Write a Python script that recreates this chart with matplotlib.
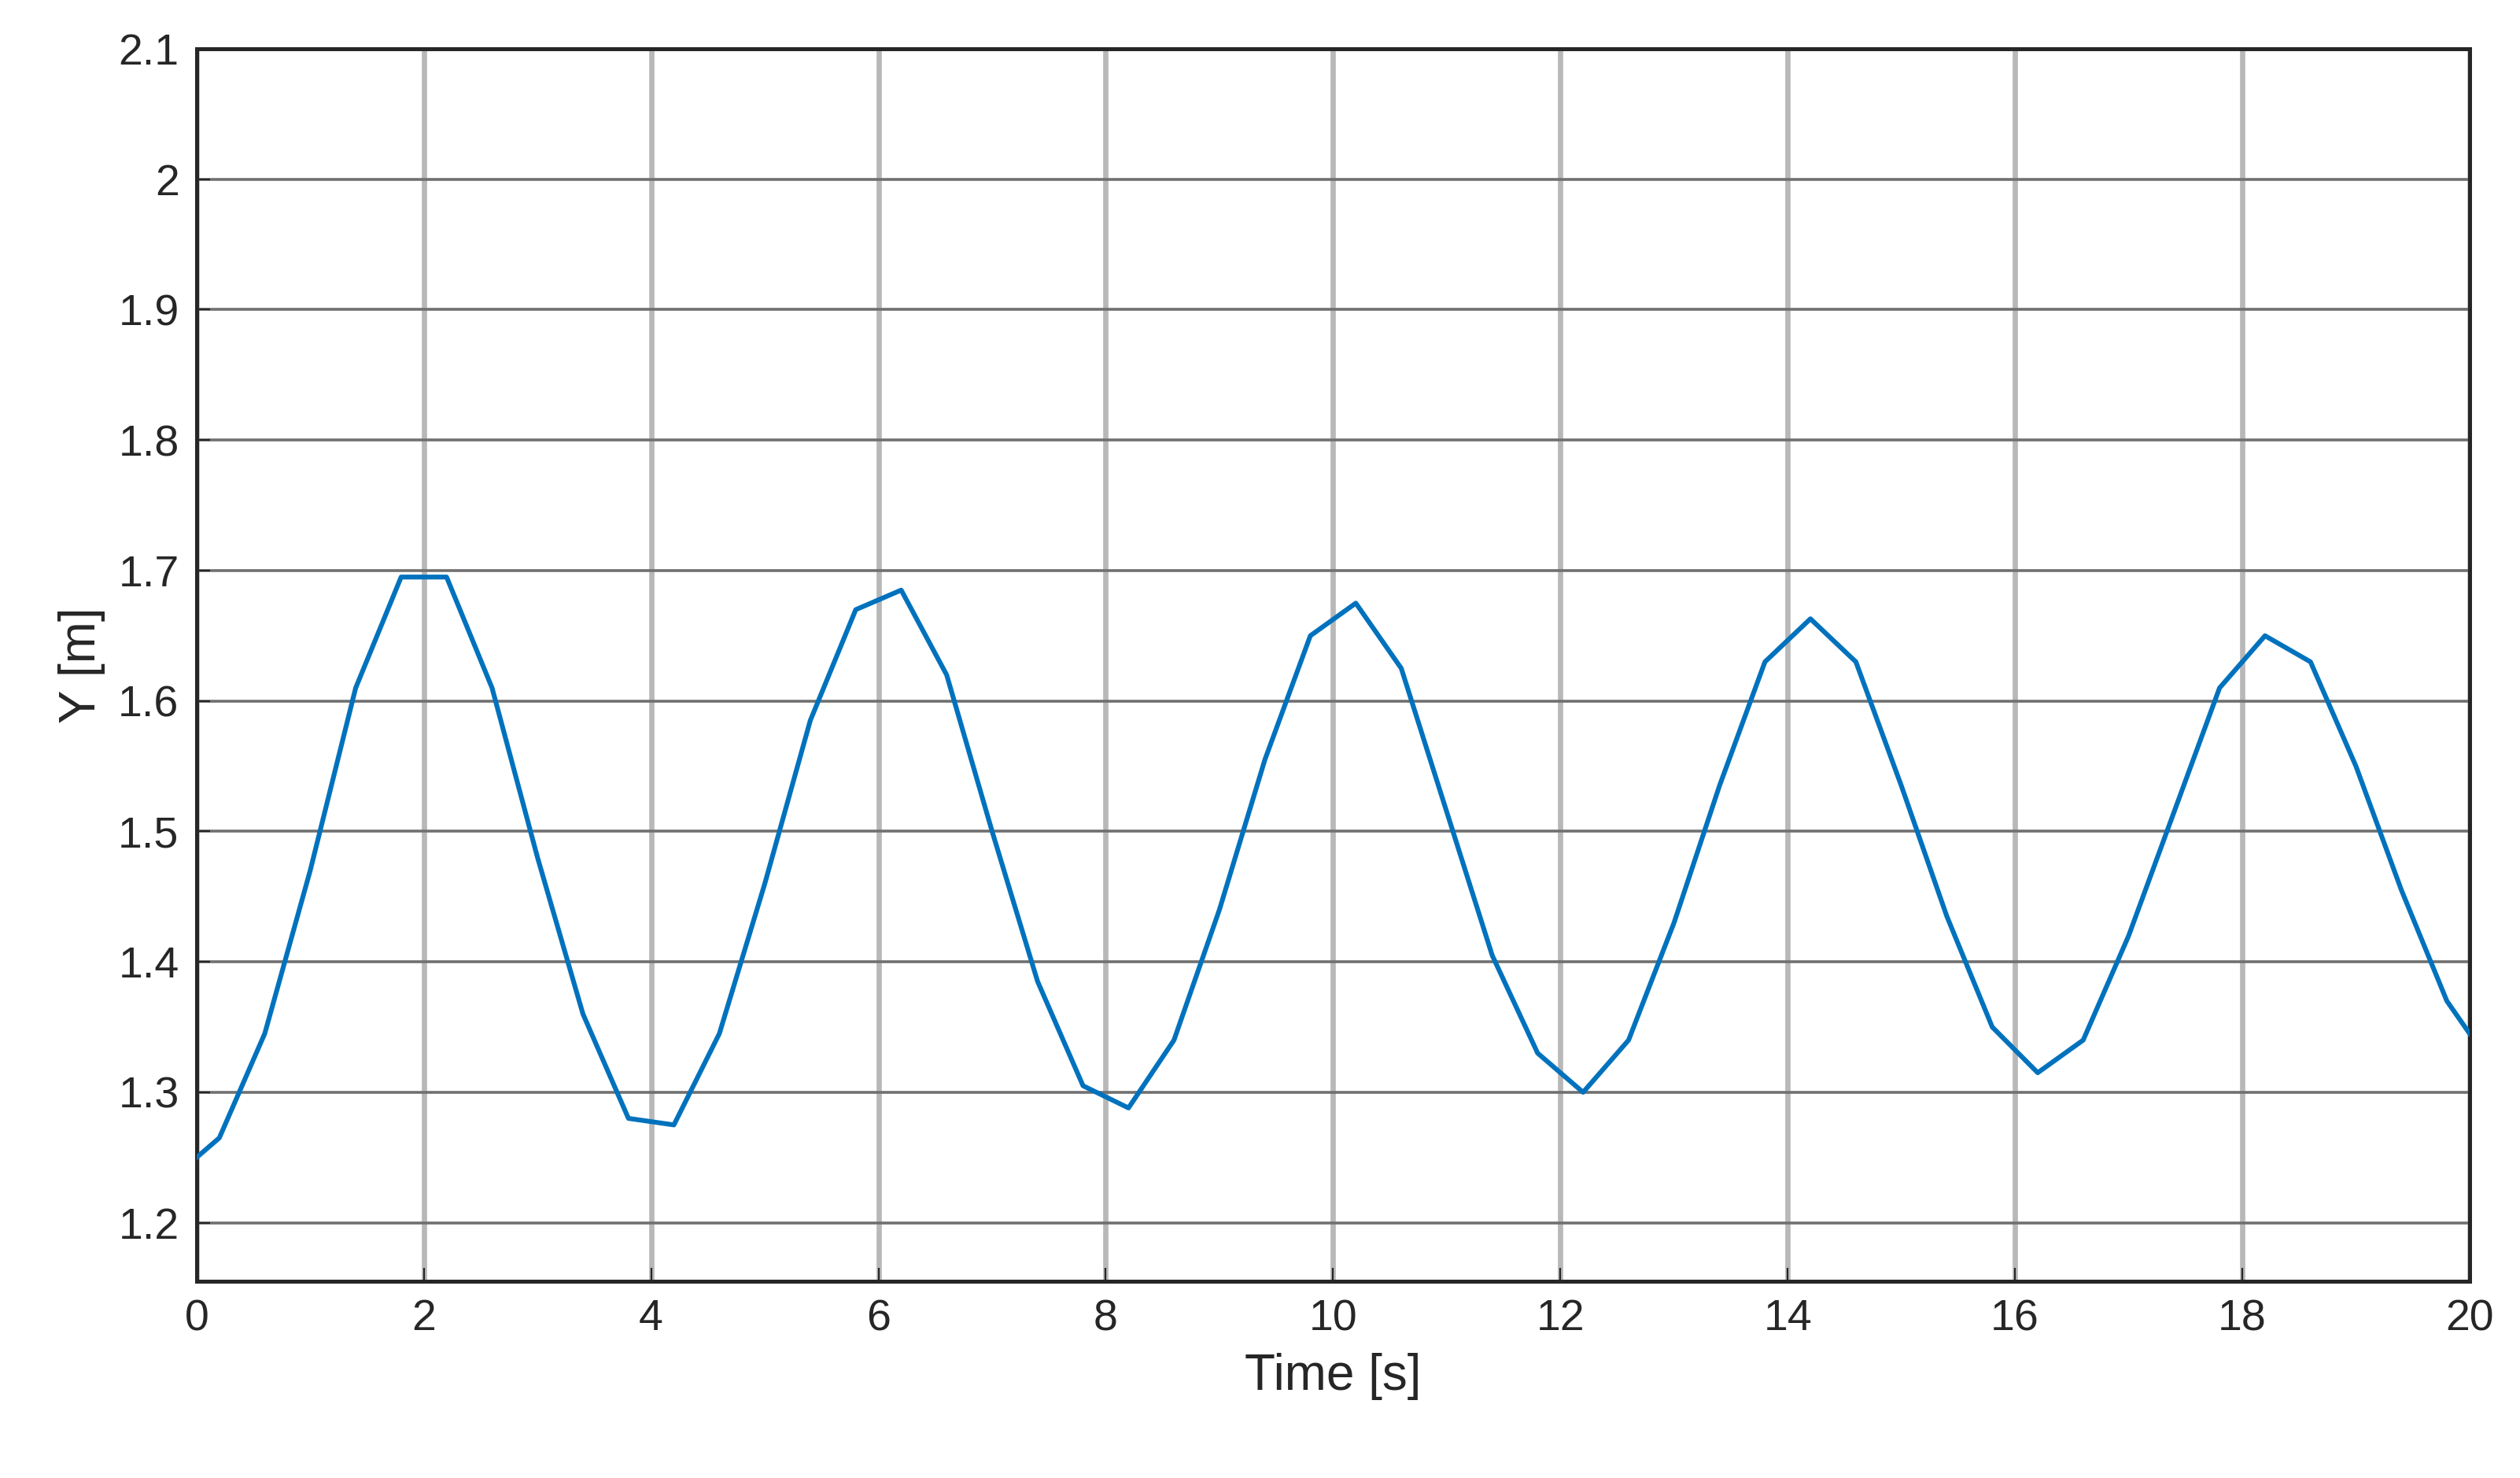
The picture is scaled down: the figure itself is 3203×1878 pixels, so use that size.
import numpy as np
import matplotlib.pyplot as plt

plt.rcParams['font.family'] = ['Liberation Sans', 'DejaVu Sans']

time_s = [0, 0.2, 0.6, 1.0, 1.4, 1.8, 2.2, 2.6, 3.0, 3.4, 3.8, 4.2, 4.6, 5.0, 5.4, 5.8,
          6.2, 6.6, 7.0, 7.4, 7.8, 8.2, 8.6, 9.0, 9.4, 9.8, 10.2, 10.6, 11.0, 11.4, 11.8,
          12.2, 12.6, 13.0, 13.4, 13.8, 14.2, 14.6, 15.0, 15.4, 15.8, 16.2, 16.6, 17.0,
          17.4, 17.8, 18.2, 18.6, 19.0, 19.4, 19.8, 20.0]
y_m = [1.25, 1.265, 1.345, 1.47, 1.61, 1.695, 1.695, 1.61, 1.48, 1.36, 1.28, 1.275,
       1.345, 1.46, 1.585, 1.67, 1.685, 1.62, 1.50, 1.385, 1.305, 1.288, 1.34, 1.44,
       1.555, 1.65, 1.675, 1.625, 1.515, 1.405, 1.33, 1.30, 1.34, 1.43, 1.535, 1.63,
       1.663, 1.63, 1.535, 1.435, 1.35, 1.315, 1.34, 1.42, 1.515, 1.61, 1.65, 1.63,
       1.55, 1.455, 1.37, 1.345]
x_ticks = np.arange(0, 21, 2)
y_ticks = [1.2, 1.3, 1.4, 1.5, 1.6, 1.7, 1.8, 1.9, 2.0, 2.1]
y_labels = ['1.2', '1.3', '1.4', '1.5', '1.6', '1.7', '1.8', '1.9', '2', '2.1']

fig = plt.figure(figsize=(16.015, 9.39), dpi=200)
ax = fig.add_axes([0.078, 0.133, 0.902, 0.834])
ax.plot(time_s, y_m, color='#0072BD', lw=2.2, zorder=3)

ax.set_xlim(0, 20)
ax.set_ylim(1.155, 2.1)
ax.set_xticks(x_ticks)
ax.set_yticks(y_ticks)
ax.set_yticklabels(y_labels)
for v in x_ticks:
    ax.axvline(v, color='#b8b8b8', lw=2.4, zorder=1)
for v in y_ticks:
    ax.axhline(v, color='#707070', lw=1.3, zorder=1)

for s in ax.spines.values():
    s.set_color('#262626')
    s.set_linewidth(1.8)
ax.tick_params(direction='in', labelsize=20, colors='#262626', length=6, pad=8)
ax.set_xlabel('Time [s]', fontsize=23, color='#262626', labelpad=6)
ax.set_ylabel('Y [m]', fontsize=23, color='#262626', labelpad=6)

fig.savefig('out.png', dpi=200)
